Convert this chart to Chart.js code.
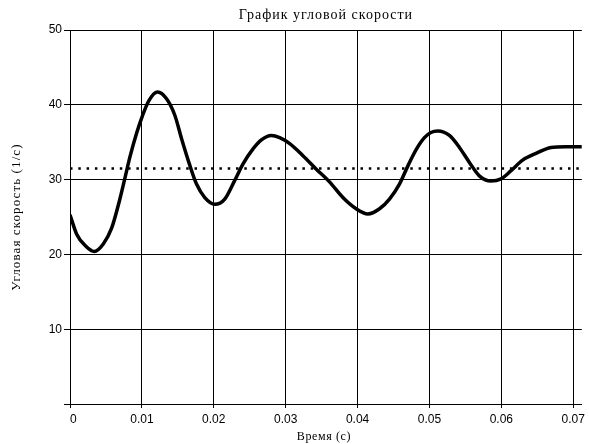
<!DOCTYPE html>
<html>
<head>
<meta charset="utf-8">
<script src="https://cdn.jsdelivr.net/npm/chart.js@4"></script>
<style>
  html, body { margin: 0; padding: 0; background: #fff; }
  #wrap { width: 589px; height: 444px; }
</style>
</head>
<body>
<div id="wrap"><canvas id="myChart" width="589" height="444"></canvas></div>
<script>
// time, s
const timeValues = [0, 0.00093, 0.0021, 0.00338, 0.00463, 0.00579, 0.00694, 0.00764, 0.00833, 0.00926,
    0.0101, 0.011, 0.01218, 0.01343, 0.01458, 0.01551, 0.01667, 0.0176, 0.01875, 0.02014,
    0.02153, 0.02292, 0.02407, 0.02546, 0.02662, 0.028, 0.02917, 0.03056, 0.0324, 0.03426,
    0.0361, 0.03796, 0.0398, 0.04143, 0.04306, 0.04444, 0.04583, 0.04699, 0.04815, 0.0493,
    0.0502, 0.05116, 0.05278, 0.05417, 0.05556, 0.05694, 0.05856, 0.05996, 0.06135, 0.06296,
    0.06482, 0.0669, 0.069, 0.0712];
// angular speed, 1/s
const speedValues = [25.3, 22.7, 21.2, 20.4, 21.4, 23.5, 27.4, 30.2, 33.0, 36.2,
    38.6, 40.6, 41.7, 40.8, 38.6, 35.5, 31.9, 29.4, 27.6, 26.7,
    27.4, 29.9, 32.1, 34.1, 35.3, 35.9, 35.6, 34.8, 33.2, 31.4,
    29.7, 27.6, 26.1, 25.4, 26.1, 27.4, 29.4, 31.8, 34.0, 35.6,
    36.3, 36.5, 35.9, 34.3, 32.3, 30.5, 29.8, 30.1, 31.2, 32.6,
    33.5, 34.3, 34.4, 34.4];
// dotted reference level
const refLevel = 31.5;
const xRange = [0, 0.0712];
const xTicks = [0, 0.01, 0.02, 0.03, 0.04, 0.05, 0.06, 0.07];
const yTicks = [0, 10, 20, 30, 40, 50];

const titleText = "График угловой скорости";
const xTitle = "Время (с)";
const yTitle = "Угловая скорость (1/с)";

const speedPoints = timeValues.map((t, i) => ({ x: t, y: speedValues[i] }));
const refPoints = xRange.map(t => ({ x: t, y: refLevel }));

// titles drawn by hand so they can be spaced like the original
const titles = {
    id: 'titles',
    afterDraw(chart) {
        const ctx = chart.ctx;
        const area = chart.chartArea;
        const midX = (area.left + area.right) / 2;
        const midY = (area.top + area.bottom) / 2;
        ctx.save();
        ctx.fillStyle = '#000';
        ctx.textAlign = 'center';
        ctx.textBaseline = 'middle';

        ctx.font = '14px "Liberation Serif"';
        ctx.letterSpacing = '1px';
        ctx.fillText(titleText, midX, 15);

        ctx.font = '12px "Liberation Serif"';
        ctx.letterSpacing = '0.6px';
        ctx.fillText(xTitle, midX - 2, 437);

        ctx.font = '13px "Liberation Serif"';
        ctx.letterSpacing = '1.1px';
        ctx.translate(17, midY);
        ctx.rotate(-Math.PI / 2);
        ctx.fillText(yTitle, 0, 0);
        ctx.restore();
    }
};

const ctx = document.getElementById('myChart').getContext('2d');
const myChart = new Chart(ctx, {
    type: 'line',
    data: {
        datasets: [{
            label: 'speed',
            data: speedPoints,
            borderColor: '#000',
            borderWidth: 3.5,
            pointRadius: 0,
            cubicInterpolationMode: 'monotone',
            fill: false
        }, {
            label: 'level',
            data: refPoints,
            borderColor: '#000',
            borderWidth: 2.5,
            borderDash: [2.5, 5.8],
            pointRadius: 0,
            fill: false
        }]
    },
    options: {
        responsive: false,
        animation: false,
        layout: { padding: { top: 30, right: 6, left: 0, bottom: 0 } },
        plugins: {
            legend: { display: false },
            title: { display: false },
            tooltip: { enabled: false }
        },
        scales: {
            x: {
                type: 'linear',
                min: xRange[0],
                max: xRange[1],
                afterBuildTicks: scale => { scale.ticks = xTicks.map(v => ({ value: v })); },
                afterFit: scale => { scale.height = 40; },
                ticks: {
                    color: '#000',
                    font: { family: '"Liberation Sans"', size: 12 },
                    padding: 4,
                    maxRotation: 0,
                    callback: v => v === 0 ? '  0' : v.toFixed(2)
                },
                grid: { color: '#000', lineWidth: 1, tickLength: 4 },
                border: { color: '#000', width: 1 }
            },
            y: {
                min: 0,
                max: 50,
                afterBuildTicks: scale => { scale.ticks = yTicks.map(v => ({ value: v })); },
                afterFit: scale => { scale.width = 70; },
                ticks: {
                    color: '#000',
                    font: { family: '"Liberation Sans"', size: 12 },
                    padding: 2,
                    callback: v => v === 0 ? '' : String(v)
                },
                grid: { color: '#000', lineWidth: 1, tickLength: 6 },
                border: { color: '#000', width: 1 }
            }
        }
    },
    plugins: [titles]
});
</script>
</body>
</html>
